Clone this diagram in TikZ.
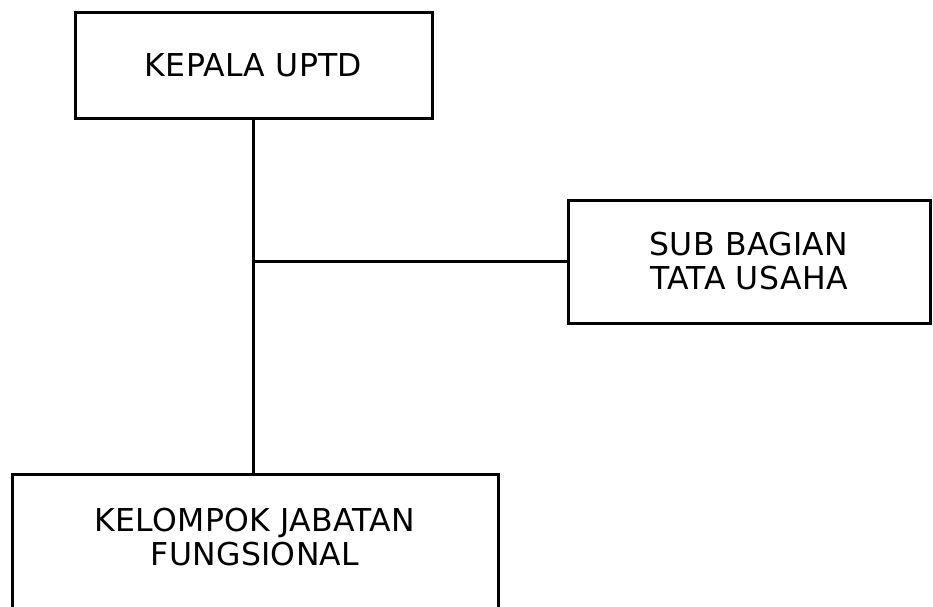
\documentclass[tikz,border=0pt]{standalone}
\usepackage{fontspec}
\newfontfamily\boxfont{DejaVu Sans}[LetterSpace=1]
\usepackage{tikz}

\begin{document}
\begin{tikzpicture}[x=1pt,y=1pt]
\tikzstyle{every node}+=[inner sep=0pt]
\tikzstyle{unit}=[draw=black, line width=3pt, align=center, font=\boxfont\fontsize{31.5}{34}\selectfont]
\clip (0,0) rectangle (933,-606);
\node [unit, minimum width=357, minimum height=106] (kepala) at (253.5,-65) {KEPALA UPTD};
\node [unit, minimum width=362, minimum height=123] (subbag) at (749,-261.5) {SUB BAGIAN\\TATA USAHA};
\node [unit, minimum width=486, anchor=north, inner ysep=34, text depth=70] (kjf) at (255,-473) {KELOMPOK JABATAN\\FUNGSIONAL};
\coordinate (cabang) at (kepala.south |- subbag.west);
\draw [black, line width=3pt] (kepala.south) -- (kepala.south |- kjf.north);
\draw [black, line width=2.6pt] (cabang) -- (subbag.west);
\end{tikzpicture}
\end{document}
